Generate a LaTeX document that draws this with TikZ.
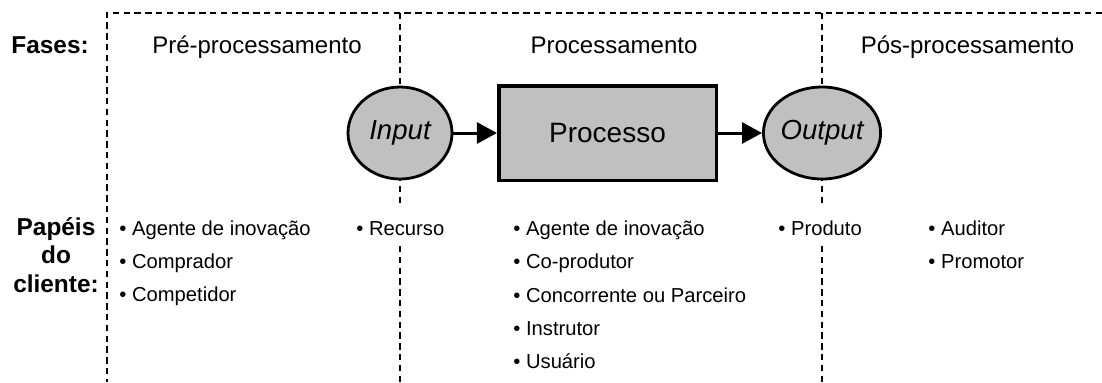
\documentclass[tikz,border=0pt]{standalone}
\usepackage{fontspec}
\setmainfont{Liberation Sans}
\usetikzlibrary{shapes.geometric,arrows.meta}
\definecolor{boxgray}{HTML}{C0C0C0}
\begin{document}
\begin{tikzpicture}[x=0.5pt,y=-0.5pt,
  divider/.style={line width=1.1pt, dash pattern=on 3.2pt off 2.2pt},
  phase/.style={font=\fontsize{12}{14}\selectfont, anchor=base, inner sep=0pt},
  rolehead/.style={font=\bfseries\fontsize{12.2}{14}\selectfont, anchor=base, inner sep=0pt},
  item/.style={font=\fontsize{10.1}{12}\selectfont, anchor=base west, inner sep=0pt},
  io/.style={ellipse, draw, line width=1.4pt, fill=boxgray, minimum width=52pt, minimum height=46pt, inner sep=0pt, font=\itshape\fontsize{13.8}{16}\selectfont},
  procbox/.style={rectangle, draw, line width=1.8pt, fill=boxgray, minimum width=108.8pt, minimum height=47.3pt, inner sep=0pt, font=\fontsize{14}{16}\selectfont},
  flow/.style={line width=1.5pt, -{Triangle[length=10pt,width=10.5pt]}}
]
\useasboundingbox (0,0) rectangle (1102,382);

% dividers
\coordinate (tl) at (107,13);
\coordinate (tr) at (1102,13);
\coordinate (bl) at (107,382);
\draw[divider] (tr) -- (tl) -- (bl);
\coordinate (d1a) at (400,13);  \coordinate (d1b) at (400,207);
\coordinate (d1c) at (400,246); \coordinate (d1d) at (400,382);
\draw[divider] (d1a) -- (d1b);
\draw[divider] (d1c) -- (d1d);
\coordinate (d2a) at (822,13);  \coordinate (d2b) at (822,207);
\coordinate (d2c) at (822,246); \coordinate (d2d) at (822,382);
\draw[divider] (d2a) -- (d2b);
\draw[divider] (d2c) -- (d2d);

% flow
\node[io] (in) at (400,133) {Input};
\node[procbox] (proc) at (607.5,133) {Processo};
\node[io] (out) at (822,133) {Output};
\draw[flow] (in) -- (proc);
\draw[flow] (proc) -- (out);

% headings
\node[rolehead, anchor=base west] (fases) at (11,53) {Fases:};
\node[phase] (pre) at (257,53) {Pré-processamento};
\node[phase] (procl) at (614,53) {Processamento};
\node[phase] (pos) at (967.5,53) {Pós-processamento};

\node[rolehead] (pap1) at (56,235) {Papéis};
\node[rolehead] (pap2) at (56,263) {do};
\node[rolehead] (pap3) at (56,292) {cliente:};

% roles
\node[item] (a1) at (119,235) {• Agente de inovação};
\node[item] (a2) at (119,268) {• Comprador};
\node[item] (a3) at (119,301) {• Competidor};

\node[item] (r1) at (356,235) {• Recurso};

\node[item] (b1) at (513,235) {• Agente de inovação};
\node[item] (b2) at (513,268) {• Co-produtor};
\node[item] (b3) at (513,302) {• Concorrente ou Parceiro};
\node[item] (b4) at (513,335) {• Instrutor};
\node[item] (b5) at (513,368) {• Usuário};

\node[item] (p1) at (778,235) {• Produto};

\node[item] (c1) at (928,235) {• Auditor};
\node[item] (c2) at (928,268) {• Promotor};
\end{tikzpicture}
\end{document}
